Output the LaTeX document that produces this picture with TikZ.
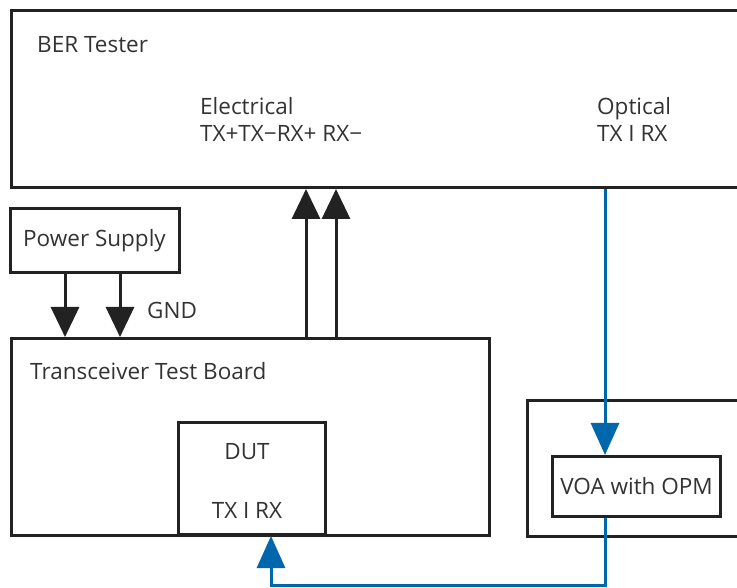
\documentclass[tikz,border=0pt]{standalone}
\usepackage{fontspec}
\setmainfont{Open Sans}
\usetikzlibrary{arrows.meta}
\definecolor{ink}{HTML}{222222}
\definecolor{txt}{HTML}{333333}
\definecolor{fiber}{HTML}{0067AC}
\tikzset{
  box/.style={draw=ink, line width=3pt, rectangle, inner sep=0pt},
  lbl/.style={text=txt, font=\fontsize{22.5}{27}\selectfont, inner sep=0pt},
  arr/.style={draw=ink, line width=3pt, -{Triangle[width=28pt,length=30pt]}},
  farr/.style={draw=fiber, line width=3pt, -{Triangle[width=28pt,length=32pt]}},
  fline/.style={draw=fiber, line width=3pt},
}
\begin{document}
\begin{tikzpicture}[x=1pt,y=1pt]
\useasboundingbox (0,0) rectangle (737,587);
\clip (0,0) rectangle (737,587);
\fill[white] (0,0) rectangle (737,587);
% boxes
\node[box, minimum width=740pt, minimum height=177pt, anchor=north west] (ber) at (10,578) {};
\node[box, minimum width=169pt, minimum height=64pt] (ps) at (94.5,346) {};
\node[box, minimum width=478pt, minimum height=197pt, anchor=north west] (ttb) at (10,250) {};
\node[box, minimum width=147pt, minimum height=112pt, anchor=north west] (dut) at (177,166) {};
\node[box, minimum width=230pt, minimum height=136pt, anchor=north west] (rb) at (526,188) {};
\node[box, minimum width=168pt, minimum height=60pt, anchor=north west] (voa) at (551,132) {};
% texts
\node[lbl, anchor=base west] (t1) at (37,534) {BER Tester};
\node[lbl, anchor=base west] (t2) at (200,472) {Electrical};
\node[lbl, anchor=base west] (t3) at (200,445) {TX+TX\char"2212 RX+ RX\char"2212};
\node[lbl, anchor=base west] (t4) at (597,472) {Optical};
\node[lbl, anchor=base west] (t5) at (597,445) {TX I RX};
\node[lbl] (t6) at (ps.center) {Power Supply};
\node[lbl, anchor=base west] (t7) at (147,268) {GND};
\node[lbl, anchor=base west] (t8) at (30,207) {Transceiver Test Board};
\node[lbl, anchor=base] (t9) at (247,127) {DUT};
\node[lbl, anchor=base] (t10) at (247,68) {TX I RX};
\node[lbl] (t11) at (voa.center) {VOA with OPM};
% connector x positions
\coordinate (p1) at (65,0);
\coordinate (p2) at (120,0);
\coordinate (u1) at (306,0);
\coordinate (u2) at (336,0);
\coordinate (f1) at (605,0);
\coordinate (d1) at (271,0);
\coordinate (bot) at (0,2);
% power arrows
\draw[arr] (p1 |- ps.south) -- (p1 |- ttb.north);
\draw[arr] (p2 |- ps.south) -- (p2 |- ttb.north);
% electrical arrows
\draw[arr] (u1 |- ttb.north) -- (u1 |- ber.south);
\draw[arr] (u2 |- ttb.north) -- (u2 |- ber.south);
% fiber
\draw[fline] (f1 |- ber.south) -- (f1 |- rb.north);
\draw[farr] (f1 |- rb.north) -- (f1 |- voa.north);
\draw[farr] (f1 |- voa.south) -- (f1 |- bot) -- (d1 |- bot) -- (d1 |- dut.south);
\end{tikzpicture}
\end{document}
